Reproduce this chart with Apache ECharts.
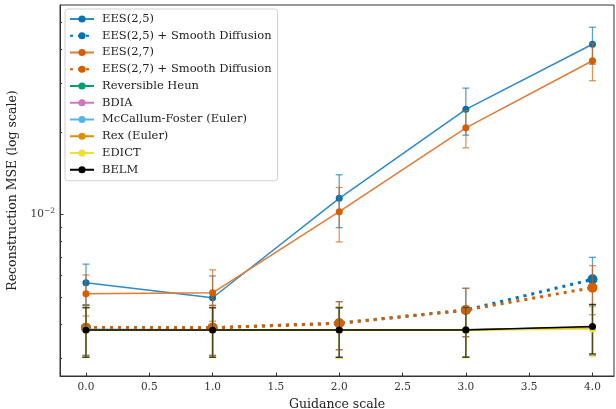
<!DOCTYPE html>
<html><head><meta charset="utf-8">
<script src="https://cdn.jsdelivr.net/npm/echarts@6/dist/echarts.min.js"></script>
<style>html,body{margin:0;padding:0;background:#fff}#c{width:616px;height:409px}</style>
</head><body><div id="c"></div>
<script>
const guidance = [0, 1, 2, 3, 4];
const xTicks = [0, 0.5, 1, 1.5, 2, 2.5, 3, 3.5, 4];
const yMajorTicks = [0.01];
const yMinorTicks = [0.003, 0.004, 0.005, 0.006, 0.007, 0.008, 0.009, 0.02, 0.03, 0.04, 0.05];

const names = ['EES(2,5)', 'EES(2,5) + Smooth Diffusion', 'EES(2,7)', 'EES(2,7) + Smooth Diffusion',
  'Reversible Heun', 'BDIA', 'McCallum-Foster (Euler)', 'Rex (Euler)', 'EDICT', 'BELM'];

const ees25 = [0.00566, 0.00499, 0.01147, 0.02416, 0.04166];
const ees25Err = [0.00095, 0.0010, 0.0025, 0.0047, 0.0064];
const ees25s = [0.00388, 0.00388, 0.00403, 0.00450, 0.00582];
const ees25sErr = [0.0008, 0.0008, 0.0008, 0.0009, 0.00118];
const ees27 = [0.00516, 0.00520, 0.01026, 0.02070, 0.03630];
const ees27Err = [0.00088, 0.0011, 0.0023, 0.0032, 0.0056];
const ees27s = [0.00388, 0.00388, 0.00403, 0.00450, 0.00543];
const ees27sErr = [0.0008, 0.0008, 0.0008, 0.0009, 0.0011];
const revHeun = [0.00382, 0.00381, 0.00381, 0.00382, 0.00389];
const revHeunErr = [0.00078, 0.00078, 0.00078, 0.00078, 0.0008];
const bdia = [0.00382, 0.00382, 0.00381, 0.00381, 0.00388];
const bdiaErr = [0.00078, 0.00078, 0.00078, 0.00078, 0.0008];
const mcf = [0.00383, 0.00382, 0.00381, 0.00382, 0.00389];
const mcfErr = [0.00078, 0.00078, 0.00078, 0.00078, 0.0008];
const rex = [0.00381, 0.00382, 0.00382, 0.00382, 0.00390];
const rexErr = [0.00078, 0.00078, 0.0008, 0.00078, 0.0008];
const edict = [0.00381, 0.00381, 0.00380, 0.00380, 0.00384];
const edictErr = [0.00078, 0.00078, 0.0008, 0.00078, 0.0008];
const belm = [0.00381, 0.00381, 0.00381, 0.00381, 0.00392];
const belmErr = [0.00078, 0.00078, 0.00078, 0.00078, 0.0008];

const values = [ees25, ees25s, ees27, ees27s, revHeun, bdia, mcf, rex, edict, belm];
const errors = [ees25Err, ees25sErr, ees27Err, ees27sErr, revHeunErr, bdiaErr, mcfErr, rexErr, edictErr, belmErr];
const lineColors = ['#2e8bc6', '#0173b2', '#e07b35', '#d55e00', '#029e73', '#cc78bc', '#56b4e9', '#de8f05', '#ece133', '#000000'];
const markColors = ['#0173b2', '#0173b2', '#d55e00', '#d55e00', '#029e73', '#cc78bc', '#56b4e9', '#de8f05', '#ece133', '#000000'];
const dotted = [false, true, false, true, false, false, false, false, false, false];

const L = Math.log10;
const yMin = -2.5865, yMax = -1.2375;
const font = 'DejaVu Serif';

const series = [];
names.forEach((n, i) => {
  series.push({
    type: 'custom', name: n + ' (error)', silent: true, z: 2 + i,
    data: guidance.map((g, k) => [g, L(values[i][k] + errors[i][k]), L(values[i][k] - errors[i][k])]),
    renderItem: (params, api) => {
      const top = api.coord([api.value(0), api.value(1)]);
      const bot = api.coord([api.value(0), api.value(2)]);
      const x = top[0], w = 3.5;
      const st = { stroke: markColors[i], lineWidth: 1.3, opacity: 0.65 };
      return { type: 'group', children: [
        { type: 'line', shape: { x1: x, y1: top[1], x2: x, y2: bot[1] }, style: st },
        { type: 'line', shape: { x1: x - w, y1: top[1], x2: x + w, y2: top[1] }, style: st },
        { type: 'line', shape: { x1: x - w, y1: bot[1], x2: x + w, y2: bot[1] }, style: st }
      ]};
    }
  });
  series.push({
    type: 'line', name: n, z: 3 + i,
    data: guidance.map((g, k) => [g, L(values[i][k])]),
    symbol: 'circle', symbolSize: dotted[i] ? 10 : 7,
    itemStyle: { color: markColors[i], borderWidth: 0 },
    lineStyle: dotted[i] ? { color: markColors[i], width: 3, type: [3, 5], cap: 'butt' }
                         : { color: lineColors[i], width: 1.5 },
    emphasis: { disabled: true }, animation: false
  });
});

const chart = echarts.init(document.getElementById('c'), null, { renderer: 'canvas' });
chart.setOption({
  animation: false,
  backgroundColor: '#fff',
  textStyle: { fontFamily: font },
  grid: { left: 60, top: 5, width: 554, height: 371, show: true, borderColor: '#333', borderWidth: 1,
    backgroundColor: 'transparent', containLabel: false, outerBoundsMode: 'none' },
  legend: {
    data: names,
    orient: 'vertical', left: 65, top: 9, itemWidth: 24, itemHeight: 9, itemGap: 2.75,
    padding: [3, 6, 4, 4], backgroundColor: '#fff', borderColor: '#d0d0d0', borderWidth: 1, borderRadius: 3,
    textStyle: { fontFamily: font, fontSize: 11.5, color: '#222', lineHeight: 14, padding: [0, 0, 0, 3] },
    selectedMode: false
  },
  xAxis: {
    type: 'value', min: -0.205, max: 4.17,
    name: 'Guidance scale', nameLocation: 'middle', nameGap: 20,
    nameTextStyle: { fontFamily: font, fontSize: 12.5, color: '#222' },
    axisLine: { show: true, onZero: false, lineStyle: { color: '#333', width: 1 } },
    axisTick: { show: true, inside: true, length: 3.5, customValues: xTicks, lineStyle: { color: '#333' } },
    axisLabel: { customValues: xTicks, fontFamily: font, fontSize: 10.5, color: '#333', margin: 6,
      formatter: v => v.toFixed(1) },
    splitLine: { show: false }
  },
  yAxis: [{
    type: 'value', min: yMin, max: yMax,
    name: 'Reconstruction MSE (log scale)', nameLocation: 'middle', nameGap: 38,
    nameTextStyle: { fontFamily: font, fontSize: 12.5, color: '#222' },
    axisLine: { show: true, onZero: false, lineStyle: { color: '#333', width: 1 } },
    axisTick: { show: true, inside: true, length: 3.5, customValues: yMajorTicks.map(L), lineStyle: { color: '#333' } },
    axisLabel: { customValues: yMajorTicks.map(L), margin: 5,
      formatter: v => '{b|10}{s|−' + Math.round(-v) + '}',
      rich: { b: { fontFamily: font, fontSize: 10.5, color: '#333' },
              s: { fontFamily: font, fontSize: 7.5, color: '#333', verticalAlign: 'top', padding: [0, 0, 7, 0] } } },
    splitLine: { show: false }
  }, {
    type: 'value', min: yMin, max: yMax, position: 'left', offset: 0,
    axisLine: { show: false, onZero: false },
    axisTick: { show: true, inside: true, length: 2, customValues: yMinorTicks.map(L), lineStyle: { color: '#333' } },
    axisLabel: { show: false }, splitLine: { show: false }
  }],
  series: series
});
</script></body></html>
